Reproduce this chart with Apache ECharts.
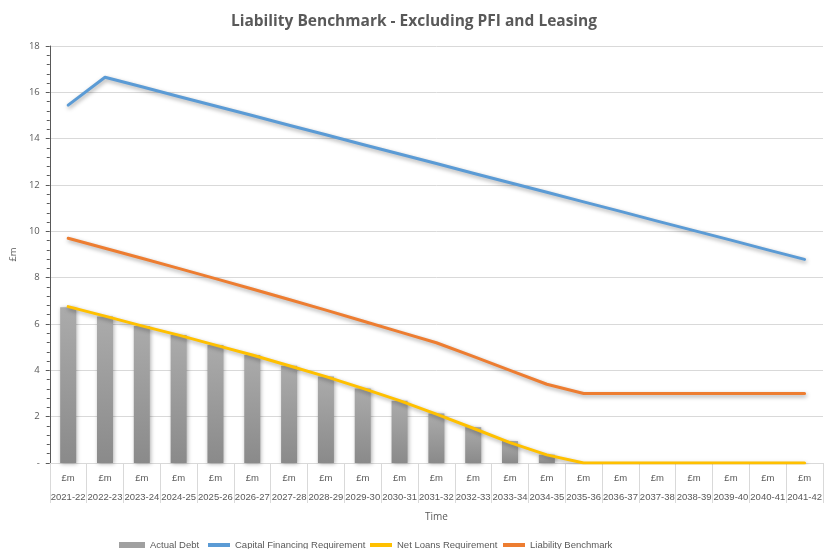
<!DOCTYPE html>
<html><head><meta charset="utf-8">
<script src="https://cdn.jsdelivr.net/npm/echarts@6/dist/echarts.min.js"></script>
<style>html,body{margin:0;padding:0;background:#fff}#c{width:828px;height:549px}</style>
</head><body><div id="c"></div>
<script>
var years = ['2021-22','2022-23','2023-24','2024-25','2025-26','2026-27','2027-28','2028-29','2029-30','2030-31','2031-32','2032-33','2033-34','2034-35','2035-36','2036-37','2037-38','2038-39','2039-40','2040-41','2041-42'];
var unitLabel = '£m';
var actualDebt = [6.72,6.32,5.91,5.52,5.09,4.66,4.20,3.73,3.22,2.69,2.14,1.55,0.95,0.36,0,0,0,0,0,0,0];
var capitalFinancingRequirement = [15.45,16.65,16.24,15.82,15.41,15.00,14.58,14.17,13.75,13.34,12.93,12.51,12.10,11.69,11.27,10.86,10.44,10.03,9.62,9.20,8.79];
var netLoansRequirement = [6.75,6.34,5.92,5.52,5.09,4.66,4.20,3.73,3.22,2.69,2.11,1.50,0.88,0.35,0,0,0,0,0,0,0];
var liabilityBenchmark = [9.70,9.27,8.84,8.40,7.96,7.51,7.06,6.60,6.13,5.66,5.19,4.60,4.00,3.40,3.00,3.00,3.00,3.00,3.00,3.00,3.00];
var yTicks = [0,2,4,6,8,10,12,14,16,18];
var seriesNames = ['Actual Debt','Capital Financing Requirement','Net Loans Requirement','Liability Benchmark'];

var FONT = 'Open Sans';
var NARROW = 'Liberation Sans';
var chart = echarts.init(document.getElementById('c'));
var lineShadow = {shadowColor:'rgba(0,0,0,0.35)', shadowBlur:4, shadowOffsetX:1, shadowOffsetY:2};
function lineSeries(name, data, color){
  return {name:name, type:'line', data:data, symbol:'none', smooth:false,
    lineStyle:Object.assign({color:color, width:3, cap:'round', join:'round'}, lineShadow),
    itemStyle:{color:color}, z:3};
}
var legendLefts = [114, 203, 365, 498];
var legends = seriesNames.map(function(n, i){
  return {top:535, left:legendLefts[i], itemWidth: i===0?26:22, itemHeight: i===0?6:4, itemGap:5,
    textStyle:{fontFamily:NARROW, fontSize:9.5, color:'#595959'},
    data:[{name:n, icon:'rect', itemStyle: i===0?{color:'#a0a0a0'}:undefined}]};
});
chart.setOption({
  animation:false,
  title:{text:'Liability Benchmark - Excluding PFI and Leasing', left:'center', top:9,
    textStyle:{fontFamily:FONT, fontSize:15.5, fontWeight:'bold', color:'#595959'}},
  grid:{left:49, right:5, top:46, bottom:86, containLabel:false},
  legend:legends,
  xAxis:{type:'category', data:years, boundaryGap:true,
    name:'Time', nameLocation:'middle', nameGap:44,
    nameTextStyle:{fontFamily:FONT, fontSize:10, color:'#595959'},
    axisLine:{show:true, lineStyle:{color:'#d9d9d9'}},
    axisTick:{show:true, interval:0, length:40, lineStyle:{color:'#d9d9d9'}},
    axisLabel:{interval:0, margin:6, fontFamily:NARROW, fontSize:9.5, color:'#595959', lineHeight:19,
      formatter:function(v){return unitLabel+'\n'+v;}}},
  yAxis:{type:'value', min:0, max:18, interval:2,
    name:unitLabel, nameLocation:'middle', nameGap:28, nameRotate:90,
    nameTextStyle:{fontFamily:FONT, fontSize:9.5, color:'#595959'},
    axisLine:{show:true, lineStyle:{color:'#595959'}},
    axisTick:{show:true, length:4, lineStyle:{color:'#595959'}},
    minorTick:{show:true, splitNumber:5, length:3, lineStyle:{color:'#595959'}},
    splitLine:{show:true, lineStyle:{color:'#d9d9d9'}},
    axisLabel:{fontFamily:FONT, fontSize:9.5, color:'#595959', margin:10,
      formatter:function(v){return yTicks.indexOf(v)===0?'-':String(v);}}},
  series:[
    {name:seriesNames[0], type:'bar', data:actualDebt, barWidth:16, z:2,
      itemStyle:{color:new echarts.graphic.LinearGradient(0,0,0,1,[{offset:0,color:'#ababab'},{offset:1,color:'#8a8a8a'}]),
        shadowColor:'rgba(0,0,0,0.3)', shadowBlur:4, shadowOffsetX:1, shadowOffsetY:1}},
    lineSeries(seriesNames[1], capitalFinancingRequirement, '#5b9bd5'),
    lineSeries(seriesNames[2], netLoansRequirement, '#ffc000'),
    lineSeries(seriesNames[3], liabilityBenchmark, '#ed7d31')
  ]
});
</script></body></html>
